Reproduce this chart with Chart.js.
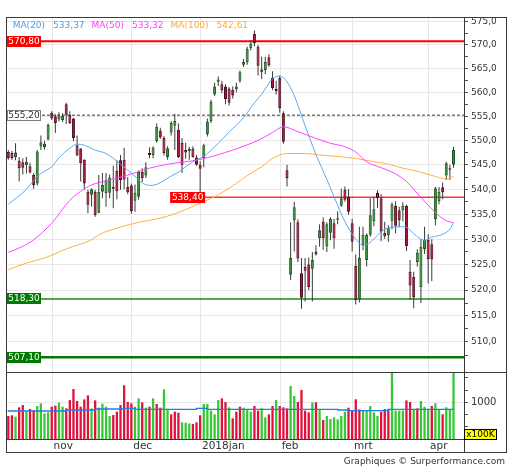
<!DOCTYPE html>
<html lang="nl">
<head>
<meta charset="utf-8">
<title>AEX</title>
<script src="https://cdn.jsdelivr.net/npm/chart.js@4.4.1/dist/chart.umd.min.js"></script>
<style>
  html, body { margin: 0; padding: 0; background: #ffffff; }
  #wrap { position: relative; width: 512px; height: 470px; overflow: hidden; }
  #c { position: absolute; left: 0; top: 0; }
  #foot { position: absolute; right: 7px; top: 455px; font: 9px "DejaVu Sans", sans-serif; line-height: 12px; color: #333; white-space: nowrap; }
</style>
</head>
<body>
<div id="wrap">
  <canvas id="c" width="512" height="470"></canvas>
  <div id="foot">Graphiques © Surperformance.com</div>
</div>
<script>
// ---- data (day index 0 = first trading day shown) ----
const openP = [547.6,547.4,546.6,545.8,545.5,544.9,544.7,542.9,541.2,548.8,
  548.6,550.2,555.7,555.0,554.3,554.2,557.5,555.3,554.5,549.0,
  548.3,546.0,539.5,538.9,539.5,535.3,539.5,539.2,539.3,540.5,
  543.7,545.9,546.0,540.5,540.8,537.7,538.5,543.5,542.8,547.4,
  547.0,549.8,552.0,550.5,546.6,551.6,553.0,552.2,549.5,548.0,
  547.8,548.3,546.5,545.0,546.4,551.3,554.0,559.5,562.2,561.7,
  561.2,560.8,560.5,560.6,562.4,565.8,566.3,569.3,572.4,569.6,
  564.8,564.7,567.4,563.0,560.7,563.0,555.6,543.9,523.0,533.8,
  533.4,523.3,524.5,525.0,524.2,527.6,530.2,533.5,528.6,531.3,
  533.2,533.9,536.7,539.9,538.5,533.2,524.7,518.2,528.8,525.9,
  530.9,533.6,539.3,538.2,531.3,530.8,533.7,536.7,535.8,535.8,
  536.7,523.6,522.6,525.5,520.6,528.0,529.9,529.0,534.0,537.6,
  540.4,542.8,544.3,545.0];
const highP = [548.0,547.8,549.4,546.6,546.3,546.6,545.4,543.3,548.0,551.0,
  549.9,553.5,556.0,555.4,555.8,555.6,557.8,556.0,554.6,551.0,
  548.4,546.1,539.9,540.2,539.9,542.9,543.3,543.3,543.0,544.8,
  545.9,547.0,548.5,542.5,541.2,541.0,543.8,544.3,545.5,548.6,
  548.8,553.5,552.6,550.9,548.8,554.0,555.5,553.5,550.5,549.5,
  548.7,548.8,547.0,545.7,549.3,554.5,558.4,562.0,563.3,562.4,
  561.7,561.1,561.2,562.0,564.6,567.0,569.6,571.0,573.1,570.0,
  567.5,567.5,568.0,564.4,562.4,563.5,556.0,545.0,533.4,537.5,
  534.0,526.3,526.3,526.4,527.5,528.8,533.0,534.4,533.4,534.4,
  534.1,535.6,540.1,540.6,540.0,534.1,527.0,532.5,532.5,531.2,
  538.2,538.5,539.8,539.0,533.5,532.8,537.4,537.6,536.5,537.4,
  536.9,525.9,523.6,528.0,530.0,532.5,531.0,530.0,540.5,540.5,
  541.4,545.6,545.0,548.7];
const lowP = [546.0,546.0,545.9,541.6,543.0,543.2,543.2,540.1,540.8,548.0,
  548.1,550.0,554.2,551.5,553.9,553.8,553.4,553.4,549.8,546.8,
  541.6,539.9,535.2,536.5,534.5,535.2,538.2,536.5,538.2,536.2,
  538.0,539.9,540.0,539.0,535.1,535.5,537.9,541.5,542.3,546.3,
  546.3,549.5,550.3,546.9,546.0,551.0,548.0,546.4,543.3,546.2,
  546.0,546.5,544.8,538.4,544.5,550.8,553.6,559.2,561.3,559.8,
  557.5,557.2,558.7,560.0,562.0,565.3,565.8,568.8,569.7,563.5,
  562.8,563.8,565.3,560.4,559.5,555.7,549.3,540.6,522.0,527.6,
  525.5,516.4,517.8,520.0,517.8,526.8,528.5,527.9,527.5,529.8,
  528.1,533.0,536.5,537.5,534.9,527.6,517.2,517.6,527.8,524.6,
  530.5,532.6,536.3,529.6,530.1,529.5,532.0,531.2,532.4,533.6,
  527.7,518.1,516.5,524.6,517.5,527.1,521.3,521.8,532.8,537.0,
  538.0,541.9,541.9,544.4];
const closeP = [546.4,546.4,547.5,544.3,544.4,545.6,543.4,540.9,547.7,549.6,
  549.3,553.2,554.5,553.6,555.2,555.1,555.3,553.6,550.5,546.9,
  545.3,541.2,536.9,540.0,534.8,539.5,540.9,541.9,542.4,540.1,
  539.6,541.9,542.0,539.4,535.6,539.3,543.5,542.3,544.5,547.0,
  548.5,552.8,550.6,547.4,548.4,553.6,554.0,546.6,545.0,547.5,
  548.2,546.6,545.0,544.2,549.0,553.9,558.0,561.2,562.7,560.4,
  558.6,557.8,559.3,561.2,564.2,566.4,569.2,570.3,570.4,565.6,
  564.3,566.4,565.7,560.9,560.2,556.7,549.7,542.3,526.3,536.4,
  526.2,518.5,523.8,520.6,525.9,527.0,531.8,530.2,533.0,534.1,
  530.2,534.2,538.2,537.9,535.5,529.5,518.1,526.3,530.9,530.9,
  534.8,536.0,538.2,531.5,530.6,532.2,537.0,532.7,533.8,536.7,
  528.6,520.9,518.6,527.3,528.5,529.9,526.1,526.0,540.2,539.5,
  539.4,545.3,544.0,548.0];
// volume in units of 100K
const volume = [627,645,608,863,926,745,817,790,899,972,
  700,727,881,908,990,881,835,1062,1362,1035,
  881,1081,1189,835,1053,854,962,881,627,654,
  745,926,1462,1008,972,881,1108,999,854,881,
  1108,953,854,1353,790,672,745,717,454,445,
  427,409,454,645,953,953,772,672,1062,1108,
  1008,863,563,745,881,854,808,745,899,772,
  835,590,672,899,1062,899,863,835,1444,1171,
  1008,1335,772,727,999,999,817,517,627,545,
  590,536,627,745,854,772,1081,808,772,790,
  899,727,627,745,817,817,1825,772,772,772,
  1053,1008,817,835,1035,881,790,899,972,808,
  672,863,808,1825];
const volumeDir = ("rrgrrgrrgg" + "ggrrggrrrr" + "rrrgrggggr" + "rrrrrggrgr" + "grrggrrrgg" +
  "grrrgggggr" + "rgrrrgggrr" + "ggrrgrrrgg" + "rrrrgrgrgg" + "ggggrrrrgg" +
  "gggrrrgggg" + "rrgrgggrgg" + "rggg").split('');
// moving averages: [day, value]
const ma20 = [[0,537.0],[5,540.0],[7,541.8],[9,543.2],[12,544.6],[14,546.4],[17,548.4],[19,549.2],[21,549.0],
  [24,548.0],[27,547.3],[29,546.3],[31,545.1],[33,543.9],[35,542.6],[37,541.3],[39,540.8],[41,541.0],[43,541.8],
  [45,542.7],[47,543.5],[51,545.6],[54,546.7],[58,549.4],[61,551.7],[65,554.7],[68,557.8],[70,559.6],[73,562.8],
  [75,563.4],[77,562.2],[79,559.3],[82,553.0],[85,547.1],[88,542.0],[90,538.5],[93,533.5],[96,530.0],[98,528.8],
  [100,529.4],[102,530.8],[104,532.0],[108,532.5],[110,532.4],[112,531.1],[115,529.8],[117,530.4],[120,531.0],
  [122,532.0],[123,533.37]];
const ma50 = [[0,527.4],[4,528.6],[7,529.9],[12,533.2],[17,537.8],[20,539.6],[23,540.9],[27,541.7],[33,542.9],
  [39,544.3],[44,545.1],[53,546.1],[62,548.0],[69,550.0],[73,551.6],[76,552.8],[80,551.8],[85,550.4],[89,549.4],
  [93,548.7],[96,547.6],[99,545.6],[103,544.4],[106,543.5],[110,541.6],[112,540.0],[114,538.4],[116,536.8],
  [118,535.3],[121,533.7],[123,533.32]];
const ma100 = [[0,524.0],[5,525.3],[10,526.3],[16,528.1],[23,529.9],[25,530.9],[30,532.2],[35,533.2],[44,534.6],
  [53,537.2],[58,538.9],[63,541.2],[66,542.8],[70,544.6],[73,546.3],[77,547.3],[82,547.3],[86,547.0],[92,546.6],
  [96,546.3],[101,545.6],[104,545.3],[109,544.3],[114,543.5],[118,542.6],[121,542.1],[123,542.61]];
const volAvg = [[0,744],[16,763],[24,790],[32,817],[35,835],[52,808],[55,835],[91,808],[94,790],[105,772],[107,808],[123,808]];
const maNames = ['MA(20)', 'MA(50)', 'MA(100)'];
const monthLabels = ['nov', 'dec', '2018jan', 'feb', 'mrt', 'apr'];
const monthStart = [13, 35, 54, 76, 96, 117];
const priceTicks = [507.5,510,512.5,515,517.5,520,522.5,525,527.5,530,532.5,535,537.5,540,542.5,545,547.5,
  550,552.5,555,557.5,560,562.5,565,567.5,570,572.5,575];
const volTicks = [333, 667, 1000, 1333, 1667];
const volLabelled = [1000];
const levels = [570.80, 555.20, 538.40, 518.30, 507.10];
const levelDay = [null, null, 53, null, null];

// ---- styles ----
const FONT = '"DejaVu Sans", sans-serif';
const maColors = ['#4a9ee6', '#ff3cff', '#ffaa33'];
const levelStyle = [
  {line:'#ff0000', w:2,   dash:[],    bg:'#ff0000', fg:'#ffffff', border:null},
  {line:'#7a7a7a', w:1.5, dash:[3,2], bg:'#ffffff', fg:'#333333', border:'#808080'},
  {line:'#ff3333', w:1.5, dash:[],    bg:'#ff0000', fg:'#ffffff', border:null},
  {line:'#1a8a1a', w:1.5, dash:[],    bg:'#007a00', fg:'#ffffff', border:null},
  {line:'#007a00', w:2.5, dash:[],    bg:'#007a00', fg:'#ffffff', border:null}
];
const comma = (v, d) => v.toFixed(d).replace('.', ',');

const days = openP.map((_, i) => i);
const isUp = days.map(i => closeP[i] >= openP[i]);

const overlay = {
  id: 'overlay',
  beforeDatasetsDraw(chart) {
    const {ctx, chartArea: a, scales: {x, y}} = chart;
    ctx.save();
    ctx.beginPath(); ctx.rect(a.left, y.top, a.right - a.left, y.bottom - y.top); ctx.clip();
    levels.forEach((v, k) => {
      const st = levelStyle[k];
      const py = y.getPixelForValue(v);
      const x0 = levelDay[k] === null ? a.left : x.getPixelForValue(levelDay[k]) + 5;
      ctx.strokeStyle = st.line; ctx.lineWidth = st.w; ctx.setLineDash(st.dash);
      ctx.beginPath(); ctx.moveTo(x0, py); ctx.lineTo(a.right, py); ctx.stroke();
    });
    ctx.restore();
  },
  afterDatasetsDraw(chart) {
    const {ctx, chartArea: a, scales: {x, y}} = chart;
    ctx.save();
    ctx.font = '9px ' + FONT; ctx.textBaseline = 'middle'; ctx.textAlign = 'center';
    levels.forEach((v, k) => {
      const st = levelStyle[k];
      const py = y.getPixelForValue(v);
      let bx = a.left, bw = 34;
      if (levelDay[k] !== null) { bw = 35; bx = x.getPixelForValue(levelDay[k]) + 5 - bw; }
      const by = Math.round(py - 5.5);
      ctx.fillStyle = st.bg; ctx.fillRect(bx, by, bw, 11);
      if (st.border) { ctx.strokeStyle = st.border; ctx.lineWidth = 1; ctx.setLineDash([]); ctx.strokeRect(bx + 0.5, by + 0.5, bw - 1, 10); }
      ctx.fillStyle = st.fg; ctx.fillText(comma(v, 2), bx + bw / 2, by + 6);
    });
    // MA legend
    ctx.textAlign = 'left';
    const lasts = [ma20, ma50, ma100].map(m => comma(m[m.length - 1][1], 2));
    let lx = a.left + 5.7;
    maNames.forEach((n, k) => {
      ctx.fillStyle = maColors[k];
      ctx.fillText(n, lx, a.top + 8.5);
      lx += ctx.measureText(n).width + 8;
      ctx.fillText(lasts[k], lx, a.top + 8.5);
      lx += ctx.measureText(lasts[k]).width + 7;
    });
    ctx.restore();
  },
  afterDraw(chart) {
    const {ctx, chartArea: a, scales: {x, y, yv}} = chart;
    const L = a.left - 0.5, R = y.right - 0.5, T = a.top + 0.5, B = x.bottom - 0.5;
    ctx.save();
    ctx.strokeStyle = '#3a3a3a'; ctx.lineWidth = 1; ctx.setLineDash([]);
    ctx.strokeRect(L, T, R - L, B - T);
    ctx.beginPath();
    const sy = Math.round(yv.top) + 0.5, ay = Math.round(a.bottom) + 0.5, ax = Math.round(a.right) + 0.5;
    ctx.moveTo(L, sy); ctx.lineTo(R, sy);
    ctx.moveTo(L, ay); ctx.lineTo(ax, ay);
    ctx.moveTo(ax, T); ctx.lineTo(ax, B);
    ctx.stroke();
    // unit box
    const bx = ax, by = Math.round(yv.bottom) - 9.5;
    ctx.fillStyle = '#ffff00'; ctx.fillRect(bx, by, 32, 10);
    ctx.strokeStyle = '#000000'; ctx.strokeRect(bx, by, 32, 10);
    ctx.fillStyle = '#000000'; ctx.font = '9px ' + FONT; ctx.textBaseline = 'middle'; ctx.textAlign = 'center';
    ctx.fillText('x100K', bx + 16, by + 5.5);
    ctx.restore();
  }
};

Chart.defaults.font.family = FONT;

const lineDs = (data, color, label) => ({
  type: 'line', label, data: data.map(([d, v]) => ({x: d, y: v})), yAxisID: 'y',
  borderColor: color, borderWidth: 1, pointRadius: 0, fill: false,
  cubicInterpolationMode: 'monotone'
});

new Chart(document.getElementById('c'), {
  type: 'bar',
  data: {
    datasets: [
      lineDs(ma20, '#5aaaf0', 'MA(20)'),
      lineDs(ma50, '#ff44ff', 'MA(50)'),
      lineDs(ma100, '#ffb040', 'MA(100)'),
      { type: 'line', label: 'volAvg', data: volAvg.map(([d, v]) => ({x: d, y: v})), yAxisID: 'yv',
        borderColor: '#1f80e0', borderWidth: 1.3, pointRadius: 0, stepped: 'after', fill: false },
      { label: 'body', data: days.map(i => ({x: i, y: [openP[i], closeP[i]]})), yAxisID: 'y',
        grouped: false, barThickness: 3, minBarLength: 1, borderWidth: 1, borderSkipped: false, inflateAmount: 0,
        backgroundColor: isUp.map(u => u ? '#35a035' : '#b8123e'),
        borderColor: isUp.map(u => u ? '#1b4f1b' : '#4d0a1c') },
      { label: 'wick', data: days.map(i => ({x: i, y: [lowP[i], highP[i]]})), yAxisID: 'y',
        grouped: false, barThickness: 1, borderWidth: 0, inflateAmount: 0, backgroundColor: '#3a3a3a' },
      { label: 'volume', data: days.map(i => ({x: i, y: volume[i]})), yAxisID: 'yv',
        grouped: false, barThickness: 2.3, borderWidth: 0, inflateAmount: 0,
        backgroundColor: volumeDir.map(c => c === 'g' ? '#36c836' : '#e0103f') }
    ]
  },
  options: {
    responsive: false, animation: false,
    layout: { padding: { top: 17, left: 7, right: 5, bottom: 17 } },
    plugins: { legend: { display: false }, tooltip: { enabled: false } },
    scales: {
      x: {
        type: 'linear', min: -0.36, max: 125.9, offset: false,
        afterBuildTicks: s => { s.ticks = monthStart.map(d => ({value: d - 0.9})); },
        afterFit: s => { s.height = 14; },
        ticks: { autoSkip: false, maxRotation: 0, align: 'start', labelOffset: 1.5, padding: 1,
          font: {size: 10.5}, color: '#333333', callback: (v, i) => monthLabels[i] },
        grid: { color: '#e6e6e6', drawTicks: false, offset: false },
        border: { color: '#3a3a3a' }
      },
      y: {
        type: 'logarithmic', position: 'right', stack: 'main', stackWeight: 355,
        min: 504.3, max: 576.0,
        afterBuildTicks: s => { s.ticks = priceTicks.map(v => ({value: v})); },
        afterFit: s => { s.width = 43; },
        ticks: { autoSkip: false, padding: 3, font: {size: 9}, color: '#333333',
          callback: v => (Math.abs(v % 5) < 1e-6 ? comma(v, 1) : '') },
        grid: { color: c => (c.tick && Math.abs(c.tick.value % 5) < 1e-6) ? '#e8e8e8' : 'rgba(0,0,0,0)',
          tickColor: '#555555', tickLength: 4 },
        border: { color: '#3a3a3a' }
      },
      yv: {
        type: 'linear', position: 'right', stack: 'main', stackWeight: 67,
        min: 0, max: 1826,
        afterBuildTicks: s => { s.ticks = volTicks.map(v => ({value: v})); },
        afterFit: s => { s.width = 43; },
        ticks: { autoSkip: false, padding: 3, font: {size: 10}, color: '#333333',
          callback: v => (volLabelled.includes(v) ? String(v) : '') },
        grid: { color: c => (c.tick && volLabelled.includes(c.tick.value)) ? '#e8e8e8' : 'rgba(0,0,0,0)',
          tickColor: '#555555', tickLength: 4 },
        border: { color: '#3a3a3a' }
      }
    }
  },
  plugins: [overlay]
});
</script>
</body>
</html>
